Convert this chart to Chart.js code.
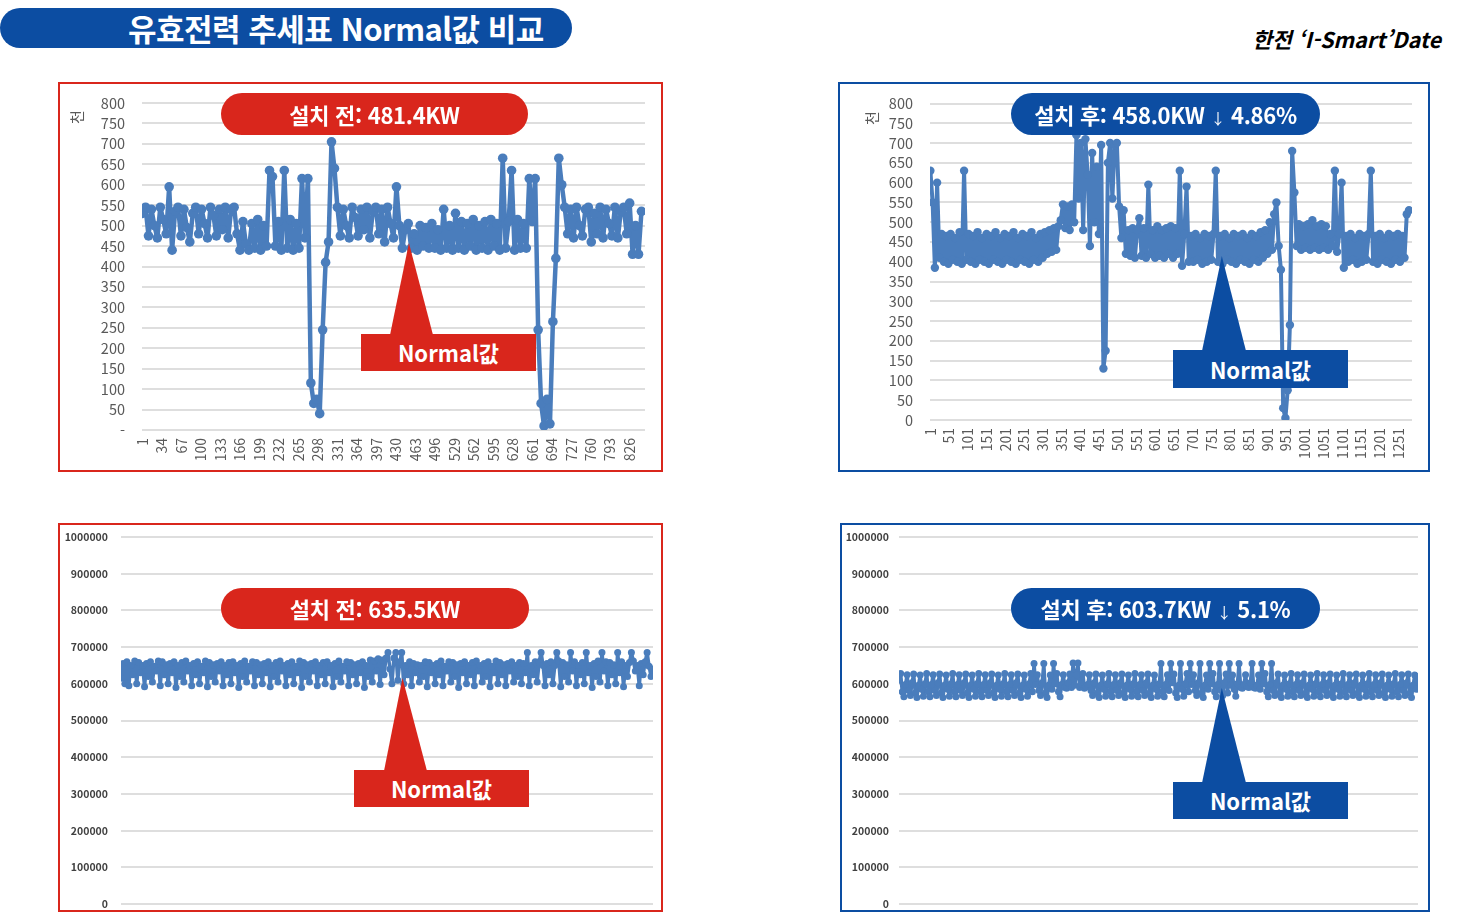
<!DOCTYPE html>
<html lang="ko">
<head>
<meta charset="utf-8">
<title>유효전력 추세표 Normal값 비교</title>
<script src="https://cdn.jsdelivr.net/npm/chart.js@4.4.1/dist/chart.umd.min.js"></script>
<style>
  html, body { margin: 0; padding: 0; }
  body { position: relative; width: 1457px; height: 912px; overflow: hidden; background: #fff;
         font-family: "Noto Sans CJK KR", "Noto Sans", sans-serif; }
  .abs { position: absolute; }
  .title-bar { left: 0; top: 8px; width: 572px; height: 40px; background: #0c4da2; border-radius: 20px; }
  .title-bar span { position: absolute; left: 128px; top: 0; line-height: 40px; color: #fff; font-size: 31px;
                    font-weight: 700; white-space: nowrap; letter-spacing: -0.5px; }
  .brand { right: 16px; top: 24px; font-size: 21.5px; line-height: 30px; font-weight: 700; font-style: italic; color: #000; white-space: nowrap; }
  .box { box-sizing: border-box; border: 2px solid; }
  .red { border-color: #d9261c; }
  .blue { border-color: #0c4da2; }
  .box canvas { position: absolute; left: 0; top: 0; }
  .pill { border-radius: 21px; color: #fff; font-weight: 700; font-size: 22px; text-align: center;
          white-space: nowrap; z-index: 2; letter-spacing: -0.3px; }
  .pill .arrow { font-size: 15px; font-weight: 400; }
  .bg-red { background: #d9261c; }
  .bg-blue { background: #0c4da2; }
  .tag { width: 175px; color: #fff; font-weight: 700; font-size: 22px; text-align: center; z-index: 2; }
  .tri { z-index: 2; }
  .unit { width: 16px; height: 20px; line-height: 20px; text-align: center; font-size: 15px; color: #595959;
          transform: rotate(-90deg); z-index: 2; }
</style>
</head>
<body>

<div class="abs title-bar"><span>유효전력 추세표 Normal값 비교</span></div>
<div class="abs brand">한전 ‘I-Smart’Date</div>

<div class="abs box red" style="left:58px;top:82px;width:605px;height:390px;">
  <canvas id="before1" width="601" height="386"></canvas>
</div>
<div class="abs box blue" style="left:838px;top:82px;width:592px;height:390px;">
  <canvas id="after1" width="588" height="386"></canvas>
</div>
<div class="abs box red" style="left:58px;top:523px;width:605px;height:389px;">
  <canvas id="before2" width="601" height="385"></canvas>
</div>
<div class="abs box blue" style="left:840px;top:523px;width:590px;height:389px;">
  <canvas id="after2" width="586" height="385"></canvas>
</div>

<div class="abs unit" style="left:69px;top:107px;">천</div>
<div class="abs unit" style="left:864px;top:108px;">천</div>

<div class="abs pill bg-red" style="left:221px;top:93px;width:307px;height:42px;line-height:42px;">설치 전: 481.4KW</div>
<div class="abs pill bg-blue" style="left:1011px;top:93px;width:309px;height:42px;line-height:42px;">설치 후: 458.0KW <span class="arrow">↓</span> 4.86%</div>
<div class="abs pill bg-red" style="left:221px;top:588px;width:308px;height:41px;line-height:41px;">설치 전: 635.5KW</div>
<div class="abs pill bg-blue" style="left:1011px;top:588px;width:309px;height:41px;line-height:41px;">설치 후: 603.7KW <span class="arrow">↓</span> 5.1%</div>

<div class="abs tri bg-red" style="left:390px;top:243px;width:43px;height:92px;clip-path:polygon(44% 0,100% 100%,0 100%);"></div>
<div class="abs tag bg-red" style="left:361px;top:334px;height:37px;line-height:37px;">Normal값</div>
<div class="abs tri bg-blue" style="left:1202px;top:256px;width:44px;height:95px;clip-path:polygon(45% 0,100% 100%,0 100%);"></div>
<div class="abs tag bg-blue" style="left:1173px;top:350px;height:38px;line-height:38px;">Normal값</div>
<div class="abs tri bg-red" style="left:384px;top:678px;width:43px;height:93px;clip-path:polygon(43% 0,100% 100%,0 100%);"></div>
<div class="abs tag bg-red" style="left:354px;top:770px;height:37px;line-height:37px;">Normal값</div>
<div class="abs tri bg-blue" style="left:1202px;top:688px;width:44px;height:95px;clip-path:polygon(45% 0,100% 100%,0 100%);"></div>
<div class="abs tag bg-blue" style="left:1173px;top:782px;height:37px;line-height:37px;">Normal값</div>

<script>
// 유효전력 (천 W) - 위 두 그래프는 측정 순번을 몇 칸씩 건너 읽은 값
const before1Step = 5;
const before1Values = [
  530, 545, 475, 540, 500, 470, 545, 515, 480, 595,
  440, 535, 545, 475, 540, 495, 460, 530, 545, 480,
  540, 505, 470, 545, 525, 475, 540, 490, 545, 470,
  540, 545, 480,
  440, 510, 455, 440, 505, 445, 515, 440, 500, 450,
  635, 620, 450, 510, 440, 635, 445, 515, 440, 505,
  445, 615, 470, 615,
  115, 65, 75, 40, 245, 410, 460, 705, 640, 545,
  475, 540, 500, 470, 545, 520, 475, 540, 490, 545,
  470, 535, 545, 480, 540, 460, 545, 505, 470, 595,
  500, 445, 490, 505, 445, 480, 440, 500, 450, 495,
  445, 505, 445, 490, 440, 540, 445, 500, 440, 530,
  445, 510, 440, 505, 450, 515, 440, 500, 445, 510,
  440, 515, 450, 505, 440, 665, 445, 510, 635, 440,
  515, 445, 505, 445, 615, 510, 615,
  245, 65, 10, 75, 15, 265, 420, 665, 600,
  545, 480, 540, 470, 545, 500, 475, 540, 545, 460,
  530, 480, 545, 470, 540, 505, 475, 545, 470, 535,
  545, 480, 555, 430, 500, 430, 535
];
const before1Ticks = [1, 34, 67, 100, 133, 166, 199, 232, 265, 298, 331, 364, 397,
  430, 463, 496, 529, 562, 595, 628, 661, 694, 727, 760, 793, 826];

const after1Step = 6;
const after1Values = [
  630, 550, 385, 600, 410, 470, 400, 465, 395, 470, 405, 460, 400, 475, 395, 630,
  405, 470, 400, 465, 395, 475, 405, 460, 400, 470,
  395, 465, 405, 475, 400, 460, 395, 470, 405, 465,
  400, 475, 395, 460, 405, 470, 400, 465, 395, 475,
  405, 460, 400, 470, 410, 475, 420,
  480, 425, 485, 430, 490,
  505, 545, 485, 540, 480, 545, 500,
  720, 560, 700, 480, 710, 620, 440, 675, 500, 640, 470, 695,
  130, 175, 650, 700, 560, 695, 700, 540, 460, 530, 420, 480,
  415, 485, 410, 480, 510, 415, 485, 410, 595, 420, 480,
  410, 490, 415, 480, 410, 485, 420, 490, 410, 485, 420,
  630, 390, 470, 590, 400,
  465, 400, 470, 405, 460, 395, 470, 400, 465, 405, 470, 630,
  400, 465, 395, 470, 405, 460, 400, 470, 395, 465, 405, 470,
  400, 460, 395, 470, 405, 465, 400, 475, 410, 480,
  420, 500, 430, 520, 550, 440,
  380, 30, 5, 75, 240, 680, 575, 440,
  495, 430, 490, 435, 495, 430, 505, 435, 490, 430, 495, 435, 490, 430,
  470, 440, 630, 425, 470, 600, 385,
  465, 400, 470, 405, 460, 395, 470, 400, 465, 405, 470, 630,
  400, 465, 395, 470, 405, 460, 400, 470, 395, 465, 405, 470,
  400, 465, 410,
  520, 530
];
const after1Ticks = [1, 51, 101, 151, 201, 251, 301, 351, 401, 451, 501, 551, 601,
  651, 701, 751, 801, 851, 901, 951, 1001, 1051, 1101, 1151, 1201, 1251];

// 아래 두 그래프 (천 W)
const before2Values = [
  615, 655, 600, 660, 595, 650, 625, 662,
  600, 658, 630, 650, 592, 655, 620, 660,
  605, 648, 635, 662, 595, 660, 625, 652,
  600, 655, 630, 660, 590, 650, 620, 658,
  605, 662, 635, 650, 595, 655, 625, 660,
  600, 648, 630, 662, 592, 658, 620, 652,
  605, 655, 635, 660, 595, 650, 625, 658,
  600, 660, 630, 650, 590, 655, 620, 662,
  605, 648, 635, 660, 595, 658, 625, 652,
  600, 655, 630, 660, 592, 650, 620, 658,
  605, 662, 635, 650, 595, 655, 625, 660,
  600, 648, 630, 662, 590, 658, 620, 652,
  605, 655, 635, 660, 595, 650, 625, 658,
  600, 660, 630, 650, 592, 655, 620, 662,
  605, 648, 635, 660, 595, 658, 625, 652,
  600, 655, 630, 660, 590, 650, 620, 665,
  605, 662, 635, 668, 598, 665, 625, 670,
  685, 640, 600, 670, 685, 610, 660, 685,
  600, 650, 625, 660, 595, 655, 630, 652,
  605, 650, 620, 660, 592, 658, 630, 650,
  600, 655, 625, 662, 595, 648, 635, 660,
  605, 658, 620, 652, 590, 655, 630, 660,
  600, 650, 625, 658, 595, 662, 635, 650,
  605, 655, 620, 660, 592, 648, 630, 662,
  600, 658, 625, 652, 595, 655, 635, 660,
  605, 650, 620, 658, 600, 655, 630, 685,
  595, 650, 625, 660, 605, 660, 685, 650,
  595, 655, 625, 660, 600, 650, 685, 662,
  592, 658, 620, 652, 605, 685, 635, 660,
  595, 650, 625, 658, 600, 685, 630, 650,
  590, 655, 620, 662, 605, 685, 635, 660,
  595, 658, 625, 652, 600, 685, 630, 660,
  592, 650, 620, 658, 685, 662, 635, 650,
  595, 655, 625, 660, 685, 648, 620, 640
];

const after2Values = [
  610, 628, 578, 565, 598, 625, 582, 568,
  603, 627, 575, 563, 596, 624, 585, 566,
  600, 628, 578, 565, 598, 625, 582, 568,
  603, 627, 575, 563, 596, 624, 585, 566,
  600, 628, 578, 565, 598, 625, 582, 568,
  603, 627, 575, 563, 596, 624, 585, 566,
  600, 628, 578, 565, 598, 625, 582, 568,
  603, 627, 575, 563, 596, 624, 585, 566,
  600, 628, 578, 565, 598, 625, 582, 568,
  603, 627, 575, 563, 596, 624, 585, 566,
  600, 628, 578, 655, 598, 625, 582, 568,
  603, 655, 575, 563, 596, 624, 585, 655,
  600, 628, 578, 565, 598, 625, 590, 588,
  603, 627, 590, 657, 596, 624, 657, 590,
  600, 628, 588, 592, 598, 625, 582, 568,
  603, 627, 575, 563, 596, 624, 585, 566,
  600, 628, 578, 565, 598, 625, 582, 568,
  603, 627, 575, 563, 596, 624, 585, 566,
  600, 628, 578, 565, 598, 625, 582, 568,
  603, 627, 575, 563, 596, 624, 585, 566,
  600, 655, 578, 565, 598, 625, 582, 655,
  603, 627, 575, 563, 596, 655, 585, 566,
  600, 628, 578, 655, 598, 625, 582, 568,
  603, 655, 575, 563, 596, 624, 585, 655,
  600, 628, 578, 565, 598, 655, 582, 568,
  603, 627, 575, 655, 596, 624, 585, 566,
  600, 655, 590, 588, 598, 625, 592, 590,
  603, 655, 590, 588, 596, 624, 585, 655,
  600, 628, 578, 565, 598, 655, 582, 568,
  603, 627, 575, 563, 596, 624, 585, 566,
  600, 628, 578, 565, 598, 625, 582, 568,
  603, 627, 575, 563, 596, 624, 585, 566,
  600, 628, 578, 565, 598, 625, 582, 568,
  603, 627, 575, 563, 596, 624, 585, 566,
  600, 628, 578, 565, 598, 625, 582, 568,
  603, 627, 575, 563, 596, 624, 585, 566,
  600, 628, 578, 565, 598, 625, 582, 568,
  603, 627, 575, 563, 596, 624, 585, 566,
  600, 628, 578, 565, 598, 625, 582, 568,
  603, 627, 575, 563, 596, 624, 585, 620
];

const lineBlue = '#4a7dbc';
const gridGray = '#dedede';

function lineChart(id, points, o) {
  const ctx = document.getElementById(id).getContext('2d');
  return new Chart(ctx, {
    type: 'line',
    data: {
      datasets: [{
        data: points,
        borderColor: lineBlue,
        backgroundColor: lineBlue,
        pointBackgroundColor: lineBlue,
        borderWidth: o.lineWidth,
        borderJoinStyle: 'round',
        borderCapStyle: 'round',
        pointRadius: o.pointRadius,
        pointBorderWidth: 0,
        tension: 0
      }]
    },
    options: {
      responsive: false,
      animation: false,
      devicePixelRatio: 1,
      layout: { padding: o.padding },
      plugins: { legend: { display: false }, tooltip: { enabled: false } },
      scales: {
        x: o.x,
        y: {
          min: 0,
          max: o.yMax,
          // 폭은 고정하고, 눈금 간격(padding)이 위아래 여백으로 번지지 않게
          afterFit: (s) => {
            s.width = o.yWidth;
            s.paddingTop = 0;
            s.paddingBottom = 0;
          },
          grid: { color: gridGray, lineWidth: 2, drawTicks: false },
          border: { display: false },
          ticks: {
            autoSkip: false,
            stepSize: o.yStep,
            padding: o.yPad,
            color: o.yColor,
            font: o.yFont,
            callback: o.yLabel
          }
        }
      }
    }
  });
}

function tickAxis(ticks, max, height) {
  return {
    type: 'linear',
    min: 0,
    max: max,
    grid: { display: false, drawTicks: false },
    border: { display: false },
    afterBuildTicks: (s) => { s.ticks = ticks.map((v) => ({ value: v })); },
    afterFit: (s) => { s.height = height; },
    ticks: {
      autoSkip: false,
      minRotation: 90,
      maxRotation: 90,
      padding: 8,
      color: '#595959',
      font: { family: 'Noto Sans CJK KR', size: 14 },
      callback: (v) => String(v)
    }
  };
}

// 아래 그래프: 가로축 글자는 없고 높이만 고정
function bareAxis(count, height) {
  return {
    type: 'linear',
    min: 0,
    max: count - 1,
    grid: { display: false, drawTicks: false },
    border: { display: false },
    ticks: { display: false },
    afterFit: (s) => { s.height = height; }
  };
}

const topFont = { family: 'Noto Sans CJK KR', size: 14.5, lineHeight: '1px' };
const bottomFont = { family: 'Noto Sans CJK KR', size: 10.5, weight: 'bold', lineHeight: '1px' };

lineChart('before1', before1Values.map((v, i) => ({ x: 1 + i * before1Step, y: v })), {
  lineWidth: 4.5, pointRadius: 4.8,
  padding: { top: 19, right: 16, left: 0, bottom: 0 },
  x: tickAxis(before1Ticks, 852, 40),
  yMax: 800, yStep: 50, yWidth: 82, yPad: 17, yColor: '#595959', yFont: topFont,
  yLabel: (v) => (v === 0 ? '-' : v)
});

lineChart('after1', after1Values.map((v, i) => ({ x: 1 + i * after1Step, y: v })), {
  lineWidth: 4, pointRadius: 4.2,
  padding: { top: 19.5, right: 16, left: 0, bottom: 0 },
  x: tickAxis(after1Ticks, 1287, 50),
  yMax: 800, yStep: 50, yWidth: 90, yPad: 17, yColor: '#595959', yFont: topFont,
  yLabel: (v) => v
});

lineChart('before2', before2Values.map((v, i) => ({ x: i, y: v })), {
  lineWidth: 3.5, pointRadius: 3.5,
  padding: { top: 12, right: 8, left: 0, bottom: 0 },
  x: bareAxis(before2Values.length, 6),
  yMax: 1000, yStep: 100, yWidth: 61, yPad: 13, yColor: '#404040', yFont: bottomFont,
  yLabel: (v) => String(v * 1000)
});

lineChart('after2', after2Values.map((v, i) => ({ x: i, y: v })), {
  lineWidth: 3.5, pointRadius: 3.5,
  padding: { top: 12, right: 10, left: 0, bottom: 0 },
  x: bareAxis(after2Values.length, 6),
  yMax: 1000, yStep: 100, yWidth: 57, yPad: 10, yColor: '#404040', yFont: bottomFont,
  yLabel: (v) => String(v * 1000)
});
</script>
</body>
</html>
